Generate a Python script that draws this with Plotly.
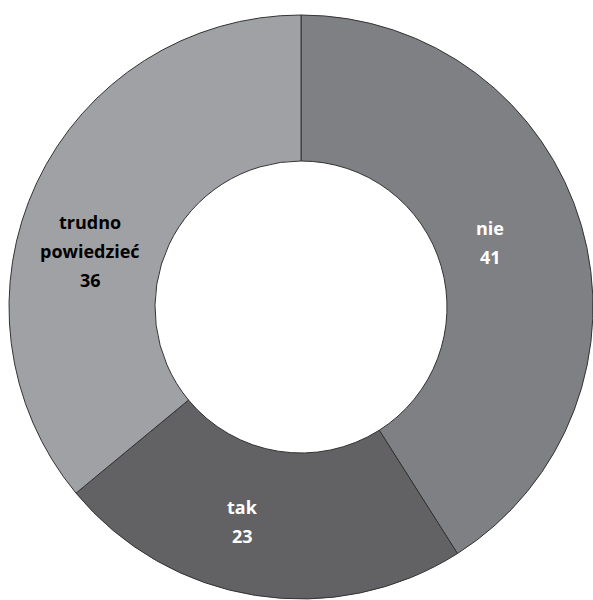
import plotly.graph_objects as go

# Survey answers
labels = ["nie", "tak", "trudno powiedzieć"]
label_lines = [["nie"], ["tak"], ["trudno", "powiedzieć"]]
values = [41, 23, 36]

colors = ["#7f8084", "#626264", "#a0a1a5"]
text_colors = ["white", "white", "black"]
# label block centres in pixels (x from left, y from top)
label_px = [(490, 242), (243, 521), (90, 251)]
LINE_GAP = 29  # px between text lines

W, H = 593, 600

fig = go.Figure(
    go.Pie(
        labels=labels,
        values=values,
        hole=0.5,
        sort=False,
        direction="clockwise",
        rotation=0,
        textinfo="none",
        hoverinfo="label+value",
        marker=dict(colors=colors, line=dict(color="#333333", width=1)),
        domain=dict(x=[9 / W, 1.0], y=[1 / H, 585 / H]),
        showlegend=False,
    )
)

for words, val, col, (px, py) in zip(label_lines, values, text_colors, label_px):
    lines = words + [str(val)]
    n = len(lines)
    for i, line in enumerate(lines):
        ly = py + (i - (n - 1) / 2) * LINE_GAP
        fig.add_annotation(
            x=px / W,
            y=1 - ly / H,
            xref="paper",
            yref="paper",
            xanchor="center",
            yanchor="middle",
            text=f"<b>{line}</b>",
            showarrow=False,
            font=dict(family="Open Sans", size=18, color=col),
        )

fig.update_layout(
    width=W,
    height=H,
    margin=dict(l=0, r=0, t=0, b=0),
    paper_bgcolor="white",
    plot_bgcolor="white",
)

fig.write_html("out.html")
